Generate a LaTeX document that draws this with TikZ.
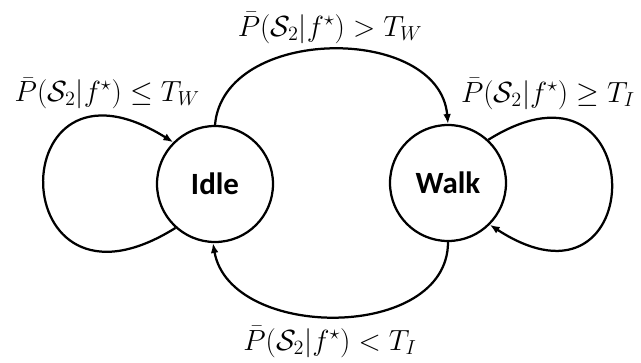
\documentclass[tikz,border=0pt]{standalone}
\usepackage{fontspec}
\usetikzlibrary{arrows.meta}
\newfontfamily\statefont{Carlito}
\begin{document}
\begin{tikzpicture}[>={Latex[length=7pt, width=5.5pt]}, line width=1.6pt,
          state/.style={draw, circle, minimum size=2.9cm, inner sep=0pt, font=\statefont\bfseries\fontsize{22}{26}\selectfont},
          cond/.style={inner sep=1pt, font=\fontsize{20}{24}\selectfont}]
        \useasboundingbox (0,0) rectangle (16.025,9.05);
        \node[state] (idle) at (5.375,4.45) {Idle};
        \node[state] (walk) at (11.2,4.475) {Walk};
        \node[cond] (stayidle) at (2.68,6.72) {$\bar{P}(\mathcal{S}_2|f^\star) \leq T_W$};
        \node[cond] (staywalk) at (13.7,6.7) {$\bar{P}(\mathcal{S}_2|f^\star) \geq T_I$};
        \node[cond] (towalk) at (8.25,8.35) {$\bar{P}(\mathcal{S}_2|f^\star) > T_W$};
        \node[cond] (toidle) at (8.25,0.5) {$\bar{P}(\mathcal{S}_2|f^\star) < T_I$};
        \draw[->] (idle.228) to[out=212, in=148, looseness=6.1] (idle.135);
        \draw[->] (walk.47) to[out=32, in=-33, looseness=5.8] (walk.-45);
        \draw[->] (idle.90) to[out=85, in=95, looseness=1.1] (walk.90);
        \draw[->] (walk.270) to[out=-90, in=-80, looseness=1.08] (idle.268);
      \end{tikzpicture}
\end{document}
